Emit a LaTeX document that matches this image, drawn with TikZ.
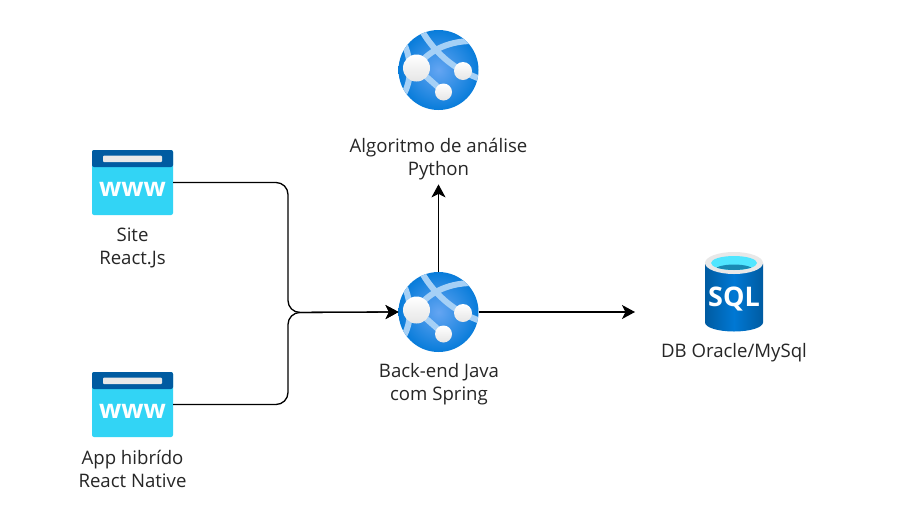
\documentclass[tikz,border=0pt]{standalone}
\usepackage{fontspec}
\setmainfont{Open Sans}
\usepackage{tikz}
\usetikzlibrary{positioning,arrows.meta}
\definecolor{globeedge}{RGB}{8,124,218}
\definecolor{globemid}{RGB}{100,165,242}
\definecolor{globeband}{RGB}{165,208,246}
\definecolor{wwwtop}{RGB}{0,91,161}
\definecolor{wwwbody}{RGB}{50,212,245}
\definecolor{sqlleft}{RGB}{0,91,161}
\definecolor{sqlmid}{RGB}{0,120,212}
\definecolor{sqlrim}{RGB}{232,232,232}
\definecolor{sqlwater}{RGB}{80,230,255}
\definecolor{sqldark}{RGB}{25,138,179}
\definecolor{linkgray}{RGB}{0,0,0}
\tikzset{
  globeicon/.pic={
    \shade[inner color=globemid,outer color=globeedge] (0,0) circle[radius=40];
    \begin{scope}
      \clip (0,0) circle[radius=40];
      \draw[globeband,line width=6pt] (-17,-40) .. controls (-8,-24) and (6,-9) .. (24,1) .. controls (30,4) and (36,7) .. (42,9);
      \draw[globeband,line width=6pt] (-22,-2) .. controls (-12,-18) and (8,-29) .. (34,-29);
      \draw[globeband,line width=6pt] (-35,-28) .. controls (-27,-10) and (-26,8) .. (-35,25);
      \draw[globeband,line width=6pt] (-22,-2) -- (5,22);
    \end{scope}
    \shade[top color=white,bottom color=gray!20] (-22,-2) circle[radius=13.5];
    \shade[top color=white,bottom color=gray!20] (24.5,1) circle[radius=9];
    \shade[top color=white,bottom color=gray!20] (5,22) circle[radius=8.5];
  },
  wwwicon/.pic={
    \fill[wwwbody,rounded corners=2pt] (-40.5,-32.5) rectangle (40.5,32.5);
    \fill[wwwtop,rounded corners=2pt] (-40.5,-15.5) -- (-40.5,-32.5) -- (40.5,-32.5) -- (40.5,-15.5) -- cycle;
    \fill[sqlrim,rounded corners=1pt] (-29.5,-27) rectangle (29.5,-20.5);
    \node[white,font=\fontsize{26}{26}\selectfont\bfseries,inner sep=0] (www) at (0,7) {www};
  },
  sqlicon/.pic={
    \shade[left color=sqlleft,right color=sqlleft,middle color=sqlmid] (-29,-28) -- (-29,31) arc[start angle=180,end angle=360,x radius=29,y radius=-9] -- (29,-28) -- cycle;
    \fill[sqlrim] (0,-28.5) ellipse[x radius=29,y radius=11];
    \fill[sqlwater] (0,-28.5) ellipse[x radius=23,y radius=7];
    \begin{scope}
      \clip (0,-28.5) ellipse[x radius=23,y radius=7];
      \fill[sqldark] (0,-21) ellipse[x radius=20,y radius=6];
    \end{scope}
    \node[white,font=\fontsize{27}{27}\selectfont\bfseries,inner sep=0] (sql) at (0,7.5) {SQL};
  }
}
\begin{document}
\begin{tikzpicture}[x=1pt,y=-1pt,
  iconbox/.style={inner sep=0,outer sep=0},
  iconlabel/.style={font=\fontsize{18.6}{23}\selectfont,align=center,text=black!85,inner sep=0,outer ysep=4pt},
  link/.style={draw=linkgray,line width=1.3pt,-{Stealth[length=13pt,width=14pt,inset=3.5pt]},rounded corners=12pt}]

\fill[white] (0,0) rectangle (902,528);
\useasboundingbox (0,0) rectangle (902,528);

\node[iconbox,minimum width=80pt,minimum height=80pt] (algo) at (438.5,70) {};
\node[iconbox,minimum width=80pt,minimum height=80pt] (backend) at (438.5,312) {};
\node[iconbox,minimum width=81pt,minimum height=65pt] (site) at (132.5,182.5) {};
\node[iconbox,minimum width=81pt,minimum height=65pt] (app) at (132.5,404.5) {};
\node[iconbox,minimum width=58pt,minimum height=80pt] (db) at (734,291.5) {};

\pic at (algo) {globeicon};
\pic at (backend) {globeicon};
\pic at (site) {wwwicon};
\pic at (app) {wwwicon};
\pic at (db) {sqlicon};

\node[iconlabel] (algolabel) at (438.5,159.5) {Algoritmo de análise\\Python};
\node[iconlabel] (backendlabel) at (439,384) {Back-end Java\\com Spring};
\node[iconlabel] (sitelabel) at (132.5,248) {Site\\React.Js};
\node[iconlabel] (applabel) at (132.5,469) {App hibrído\\React Native};
\node[iconlabel] (dblabel) at (734,352.5) {DB Oracle/MySql};

\coordinate (joint) at (288,312.5);
\coordinate (dbend) at (635,312);

\draw[link] (site.east) -| (joint) -- (backend.west);
\draw[link] (app.east) -| (joint) -- (backend.west);
\draw[link] (backend.north) -- (algolabel.south);
\draw[link] (backend.east) -- (dbend);
\end{tikzpicture}
\end{document}
